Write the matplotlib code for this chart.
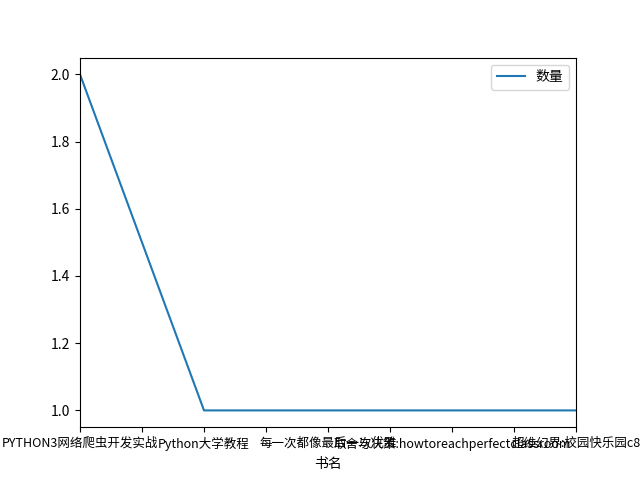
import matplotlib
matplotlib.use("Agg")
import matplotlib.pyplot as plt

plt.rcParams['font.family'] = ['Noto Sans CJK SC', 'DejaVu Sans']
plt.rcParams['axes.unicode_minus'] = False

books = [
    "PYTHON3网络爬虫开发实战",
    "Python大学教程",
    "每一次都像最后一次优雅",
    "取舍与决策:howtoreachperfectclassroom",
    "超维幻界:校园快乐园c8",
]
counts = [2, 1, 1, 1, 1]

fig = plt.figure(figsize=(6.4, 4.8), dpi=100)
ax = fig.add_subplot(111)
pos = list(range(len(books)))
ax.plot(pos, counts, label="数量")
ax.set_xlim(pos[0], pos[-1])

# pandas-style labelling: auto ticks, labels only on whole positions
ticks = [t for t in ax.get_xticks() if pos[0] <= t <= pos[-1]]
labels = [books[int(t)] if float(t).is_integer() else "" for t in ticks]
ax.set_xticks(ticks)
ax.set_xticklabels(labels, fontsize=9)
ax.set_xlabel("书名")
ax.legend(loc="upper right")
plt.savefig("out.png")
